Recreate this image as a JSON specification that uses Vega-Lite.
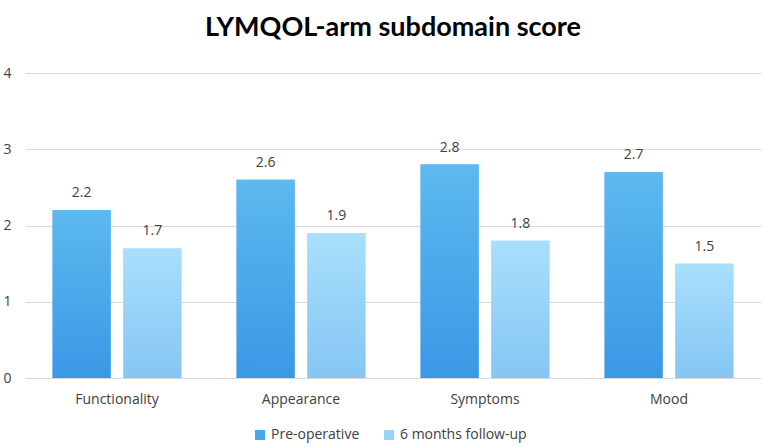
{
  "$schema": "https://vega.github.io/schema/vega-lite/v6.json",
  "width": 736,
  "height": 305,
  "padding": {"left": 2, "top": 14, "right": 6, "bottom": 4},
  "background": "white",
  "title": {"text": "LYMQOL-arm subdomain score", "font": "Lato", "fontSize": 27, "fontWeight": "bold", "color": "#000000", "offset": 24},
  "data": {"values": [
    {"category": "Functionality", "series": "Pre-operative", "score": 2.2},
    {"category": "Functionality", "series": "6 months follow-up", "score": 1.7},
    {"category": "Appearance", "series": "Pre-operative", "score": 2.6},
    {"category": "Appearance", "series": "6 months follow-up", "score": 1.9},
    {"category": "Symptoms", "series": "Pre-operative", "score": 2.8},
    {"category": "Symptoms", "series": "6 months follow-up", "score": 1.8},
    {"category": "Mood", "series": "Pre-operative", "score": 2.7},
    {"category": "Mood", "series": "6 months follow-up", "score": 1.5}
  ]},
  "encoding": {
    "x": {"field": "category", "type": "nominal", "sort": ["Functionality", "Appearance", "Symptoms", "Mood"],
      "scale": {"paddingInner": 0.3, "paddingOuter": 0.15},
      "axis": {"title": null, "labelAngle": 0, "labelFont": "Open Sans", "labelFontSize": 14, "labelColor": "#404040", "domain": true, "domainColor": "#D9D9D9", "ticks": false, "labelPadding": 14}},
    "xOffset": {"field": "series", "type": "nominal", "sort": ["Pre-operative", "6 months follow-up"], "scale": {"paddingInner": 0.18}},
    "y": {"field": "score", "type": "quantitative", "scale": {"domain": [0, 4]},
      "axis": {"title": null, "values": [0, 1, 2, 3, 4], "domain": false, "ticks": false, "labelFont": "Open Sans", "labelFontSize": 14, "labelColor": "#404040", "labelPadding": 14, "gridColor": "#D9D9D9", "gridWidth": 1}}
  },
  "layer": [
    {
      "mark": {"type": "bar"},
      "encoding": {
        "fill": {"field": "series", "type": "nominal", "sort": ["Pre-operative", "6 months follow-up"],
          "scale": {"domain": ["Pre-operative", "6 months follow-up"], "range": ["#4AA8EA", "#97D3F8"]},
          "legend": {"title": null, "orient": "none", "legendX": 228, "legendY": 355, "direction": "horizontal", "symbolType": "square", "symbolSize": 100, "labelFont": "Open Sans", "labelFontSize": 14, "labelColor": "#404040", "columnPadding": 22, "labelOffset": 4, "symbolStrokeWidth": 0}
        }
      }
    },
    {
      "transform": [{"filter": "datum.series === 'Pre-operative'"}],
      "mark": {"type": "bar", "color": {"gradient": "linear", "x1": 0, "y1": 0, "x2": 0, "y2": 1, "stops": [{"offset": 0, "color": "#5DB9EE"}, {"offset": 1, "color": "#3A98E6"}]}}
    },
    {
      "transform": [{"filter": "datum.series === '6 months follow-up'"}],
      "mark": {"type": "bar", "color": {"gradient": "linear", "x1": 0, "y1": 0, "x2": 0, "y2": 1, "stops": [{"offset": 0, "color": "#A8DFFC"}, {"offset": 1, "color": "#85C6F4"}]}}
    },
    {
      "mark": {"type": "text", "dy": -17, "font": "Open Sans", "fontSize": 14, "color": "#404040"},
      "encoding": {"text": {"field": "score", "type": "quantitative", "format": ".1f"}}
    }
  ],
  "config": {"view": {"stroke": null}}
}
